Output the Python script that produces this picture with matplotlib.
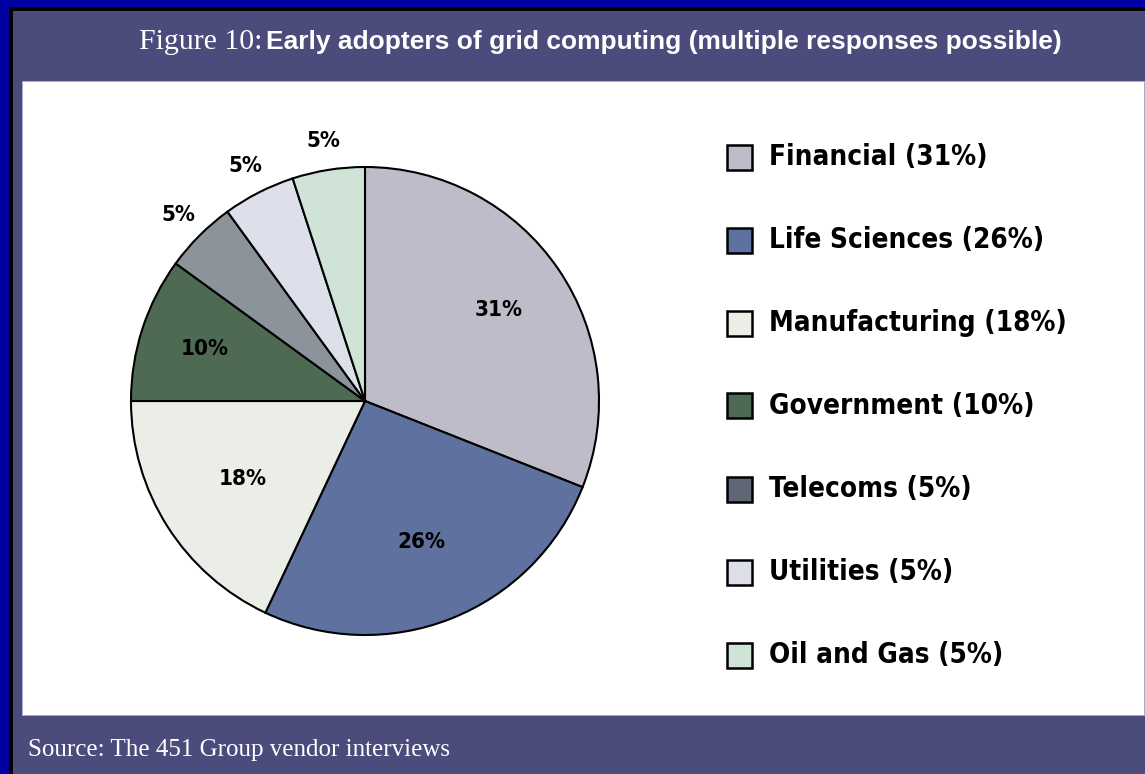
import matplotlib
matplotlib.use("Agg")
import matplotlib.pyplot as plt
from matplotlib.patches import Rectangle
from matplotlib import font_manager
from matplotlib.font_manager import FontProperties
import numpy as np

categories = ["Financial", "Life Sciences", "Manufacturing", "Government",
              "Telecoms", "Utilities", "Oil and Gas"]
values = [31, 26, 18, 10, 5, 5, 5]
slice_colors = ["#bdbcc8", "#5f719e", "#ebede7", "#4f6a53", "#8b939b", "#dddfeb", "#cfe3d6"]
legend_colors = ["#bdbcc8", "#5f719e", "#ebede7", "#4f6a53", "#5f6775", "#dddfeb", "#cfe3d6"]
label_radius = [0.69, 0.65, 0.62, 0.72, 1.125, 1.125, 1.125]

W, H = 1145, 774
fig = plt.figure(figsize=(W / 100, H / 100), dpi=100)
fig.patch.set_facecolor("#4b4b7c")

def rect(x0, y0, x1, y1, color, z=-5):
    fig.patches.append(Rectangle((x0 / W, 1 - y1 / H), (x1 - x0) / W, (y1 - y0) / H,
                                 transform=fig.transFigure, facecolor=color,
                                 edgecolor="none", zorder=z))

rect(0, 0, W, 7, "#0000a0")
rect(0, 0, 9, H, "#0000a0")
rect(9, 7, W, 11, "#000000")
rect(9, 7, 13, H, "#000000")
rect(22, 81, 1145, 716, "#a9a9cc")
rect(23, 82, 1144, 715, "#ffffff")

# find a bold condensed font file if available
cond_file = None
best = None
for f in font_manager.fontManager.ttflist:
    nm = (f.name + " " + str(f.stretch) + " " + f.fname).lower()
    if ("narrow" in nm or "condensed" in nm) and f.style == "normal":
        w = f.weight if isinstance(f.weight, int) else (700 if "bold" in str(f.weight) else 400)
        score = abs(w - 700)
        if best is None or score < best:
            best = score
            cond_file = f.fname

def cond_props(size):
    if cond_file:
        return dict(fontproperties=FontProperties(fname=cond_file, size=size))
    return dict(family=["DejaVu Sans"], fontstretch="condensed", fontweight="bold", fontsize=size)

SANS = ["Liberation Sans", "DejaVu Sans"]
SERIF = ["Liberation Serif", "DejaVu Serif"]

fig.text(262 / W, 1 - 42 / H, "Figure 10:", ha="right", va="center", color="white",
         fontsize=21.5, family=SERIF)
fig.text(266 / W, 1 - 42 / H, "Early adopters of grid computing (multiple responses possible)",
         ha="left", va="center", color="white", fontsize=19, fontweight="bold", family=SANS)
fig.text(28 / W, 1 - 750 / H, "Source: The 451 Group vendor interviews", ha="left",
         va="center", color="white", fontsize=18, family=SERIF)

cx, cy, R = 365, 401, 234
half = 250
ax = fig.add_axes([(cx - half) / W, 1 - (cy + half) / H, 2 * half / W, 2 * half / H])
ax.set_zorder(2)
wedges, _ = ax.pie(values, colors=slice_colors, startangle=90, counterclock=False,
                   radius=1.0, wedgeprops=dict(edgecolor="black", linewidth=1.5))
ax.set_xlim(-half / R, half / R)
ax.set_ylim(-half / R, half / R)
ax.set_aspect("equal")
ax.axis("off")
for w, v, r in zip(wedges, values, label_radius):
    ang = np.deg2rad((w.theta1 + w.theta2) / 2)
    ax.text(r * np.cos(ang), r * np.sin(ang), f"{v}%", ha="center", va="center",
            color="black", **cond_props(16))

y0, dy = 157, 83
for i, (c, v, col) in enumerate(zip(categories, values, legend_colors)):
    yc = y0 + i * dy
    fig.patches.append(Rectangle((727 / W, 1 - (yc + 12.5) / H), 25 / W, 25 / H,
                                 transform=fig.transFigure, facecolor=col,
                                 edgecolor="black", linewidth=1.8, zorder=3))
    fig.text(769 / W, 1 - yc / H, f"{c} ({v}%)", ha="left", va="center",
             color="black", **cond_props(20))

fig.savefig("out.png", dpi=100)
